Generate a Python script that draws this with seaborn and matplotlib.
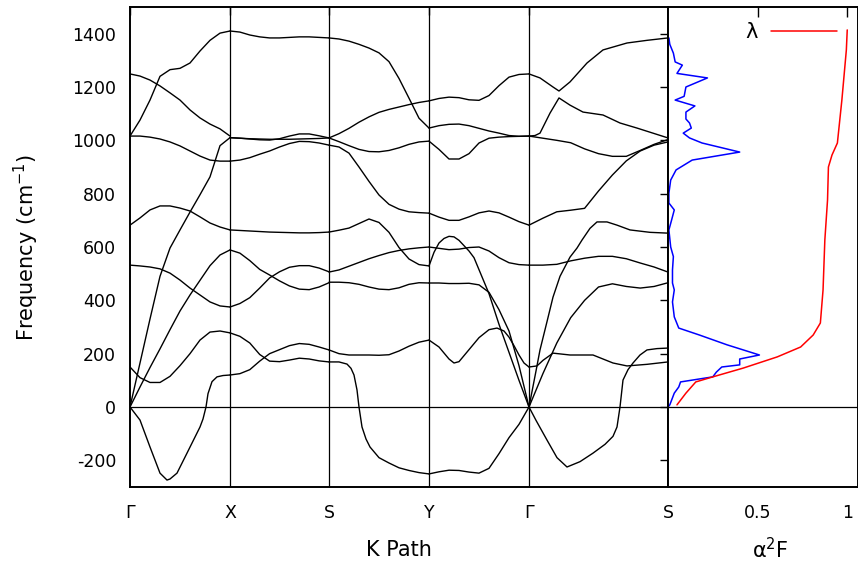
import matplotlib
matplotlib.use('Agg')
import matplotlib.pyplot as plt
import pandas as pd
import seaborn as sns

sns.set_theme(style='white')
plt.rcParams['font.family'] = ['DejaVu Sans']
plt.rcParams['mathtext.fontset'] = 'dejavusans'
plt.rcParams['axes.unicode_minus'] = False
for key in ('text.color', 'axes.labelcolor', 'xtick.color', 'ytick.color'):
    plt.rcParams[key] = 'black'

# ---------------- data ----------------
KNODES = [0.0, 1.0, 1.99, 2.99, 3.99, 5.38]
KLABELS = ['Γ', 'X', 'S', 'Y', 'Γ', 'S']
SEG_LEN = [1.0, 0.99, 1.0, 1.0, 1.39]
T11 = [i / 10 for i in range(11)]

# Γ-X
GX_A = [1016, 1076, 1151, 1240, 1265, 1270, 1290, 1335, 1375, 1402, 1410]
GX_B = [1249, 1241, 1226, 1204, 1178, 1151, 1114, 1084, 1061, 1043, 1016]
GX_C = [1016, 1016, 1012, 1005, 994, 979, 960, 941, 926, 922, 922]
GX_D = [0, 165, 330, 490, 596, 664, 731, 796, 863, 980, 1010]
GX_E = [682, 709, 739, 754, 754, 746, 735, 713, 690, 675, 664]
GX_F = [532, 529, 525, 518, 502, 476, 446, 420, 394, 379, 375]
GX_G = [0, 75, 148, 218, 290, 360, 420, 475, 530, 570, 589]
GX_H_D = [0, .07, .1, .2, .3, .4, .5, .6, .7, .8, .9, 1.0]
GX_H = [150, 122, 110, 92, 92, 115, 155, 200, 251, 281, 285, 278]
GX_I_D = [0, .1, .2, .3, .37, .4, .47, .57, .7, .73, .76, .78, .82, .87, .93, 1.0]
GX_I = [0, -49, -150, -248, -274, -270, -248, -173, -75, -45, 0, 50, 95, 113, 118, 120]

# X-S
XS_A = [1410, 1406, 1395, 1388, 1384, 1384, 1386, 1388, 1388, 1386, 1384]
XS_P1 = [1010, 1008, 1005, 1002, 1001, 1006, 1016, 1024, 1024, 1017, 1009]
XS_P2 = [1010, 1008, 1006, 1005, 1004, 1004, 1004, 1005, 1006, 1007, 1009]
XS_P3 = [922, 926, 935, 948, 960, 975, 988, 996, 995, 990, 982]
XS_E = [664, 662, 660, 658, 656, 655, 654, 653, 653, 654, 656]
XS_G = [589, 577, 549, 516, 495, 473, 454, 442, 440, 450, 466]
XS_F = [375, 388, 410, 446, 484, 507, 524, 530, 530, 521, 507]
XS_H = [278, 265, 240, 197, 172, 170, 176, 183, 180, 173, 169]
XS_I = [120, 125, 140, 172, 200, 215, 230, 238, 235, 225, 214]

# S-Y
SY_A = [1384, 1380, 1372, 1360, 1346, 1328, 1295, 1232, 1158, 1083, 1046]
SY_Q = [1009, 1025, 1045, 1068, 1088, 1105, 1116, 1125, 1134, 1142, 1148]
SY_R = [1009, 995, 980, 966, 958, 957, 962, 972, 985, 994, 997]
SY_P3 = [982, 975, 952, 900, 846, 795, 760, 742, 732, 729, 727]
SY_E = [656, 663, 671, 688, 705, 692, 655, 598, 555, 534, 529]
SY_F = [506, 514, 528, 542, 556, 568, 579, 587, 593, 597, 600]
SY_G = [468, 468, 466, 460, 450, 442, 440, 447, 460, 466, 465]
SY_I = [214, 200, 195, 195, 195, 194, 196, 210, 228, 243, 251]
SY_H_D = [0, .1, .18, .22, .25, .28, .30, .33, .37, .41, .5, .6, .7, .8, .9, 1.0]
SY_H = [169, 169, 161, 145, 120, 64, 0, -75, -120, -150, -190, -210, -228, -238, -246, -251]

# Y-Γ
YG_Q = [1148, 1157, 1162, 1160, 1152, 1150, 1168, 1205, 1237, 1247, 1249]
YG_A = [1046, 1055, 1060, 1061, 1055, 1045, 1035, 1027, 1018, 1015, 1016]
YG_R = [997, 966, 930, 930, 950, 990, 1008, 1012, 1014, 1015, 1016]
YG_P3 = [727, 712, 700, 700, 713, 728, 735, 728, 712, 695, 682]
YG_F = [600, 595, 590, 592, 598, 600, 585, 560, 541, 534, 532]
YG_G = [465, 465, 463, 463, 464, 458, 430, 365, 285, 155, 0]
YG_H = [-251, -243, -237, -238, -244, -248, -230, -175, -115, -65, 0]
YG_E_D = [0, .05, .1, .15, .2, .25, .3, .35, .4, .45, .5, .6, .7, .8, .9, 1.0]
YG_E = [529, 580, 615, 632, 640, 638, 625, 605, 585, 560, 515, 425, 310, 205, 100, 0]
YG_I_D = [0, .1, .2, .25, .3, .4, .5, .6, .68, .75, .8, .85, .9, .95, 1.0]
YG_I = [251, 225, 180, 165, 170, 215, 260, 290, 296, 285, 262, 230, 195, 165, 150]

# Γ-S
GS_R = [1016, 1008, 1000, 991, 968, 950, 940, 940, 962, 985, 1003]
GS_P3 = [682, 708, 732, 738, 745, 810, 870, 923, 960, 982, 994]
GS_F = [532, 532, 535, 548, 558, 565, 565, 556, 540, 525, 506]
GS_G = [0, 125, 240, 335, 400, 450, 462, 452, 446, 452, 466]
GS_B_D = [0, .11, .24, .30, .41, .58, .74, .98, 1.18, 1.39]
GS_B = [1249, 1234, 1200, 1185, 1219, 1290, 1339, 1365, 1375, 1384]
GS_A_D = [0, .06, .11, .21, .30, .41, .54, .74, .91, 1.08, 1.39]
GS_A = [1016, 1018, 1027, 1102, 1159, 1132, 1106, 1095, 1065, 1046, 1009]
GS_E_D = [0, .07, .11, .18, .24, .31, .41, .48, .53, .61, .68, .78, .88, 1.01, 1.21, 1.39]
GS_E = [0, 135, 214, 320, 412, 490, 562, 596, 626, 670, 694, 694, 682, 664, 655, 652]
GS_H_D = [0, .08, .14, .24, .41, .64, .84, .98, 1.18, 1.39]
GS_H = [150, 154, 175, 202, 195, 195, 165, 154, 160, 169]
GS_I_D = [0, .07, .18, .28, .38, .51, .64, .76, .84, .88, .91, .94, .99, 1.04, 1.11, 1.18, 1.28, 1.39]
GS_I = [0, -50, -124, -190, -225, -205, -173, -140, -110, -75, 0, 101, 140, 165, 195, 214, 219, 221]

# Eliashberg function and lambda
A2F_FREQ = [1384, 1360, 1327, 1294, 1282, 1251, 1234, 1200, 1165, 1151, 1129, 1106, 1080, 1065,
            1046, 1027, 1009, 990, 956, 926, 889, 851, 802, 765, 739, 701, 664, 600, 564, 514,
            465, 439, 394, 338, 296, 270, 233, 195, 180, 158, 150, 131, 113, 94, 75, 52, 8, 0]
A2F_VAL = [.005, .01, .03, .04, .08, .05, .22, .10, .09, .04, .15, .10, .10, .12, .13, .085, .12,
           .19, .40, .135, .045, .015, .005, .005, .035, .02, .005, .015, .03, .025, .025, .035,
           .025, .035, .06, .175, .33, .51, .40, .40, .30, .27, .25, .07, .06, .035, .01, 0]
LAM_FREQ = [8, 52, 94, 113, 146, 188, 225, 270, 315, 439, 626, 776, 900, 945, 990, 1151, 1226, 1339, 1414]
LAM_VAL = [.05, .10, .155, .25, .42, .61, .74, .81, .85, .865, .875, .89, .895, .915, .945, .97, .98, .995, 1.0]

CURVES = [
    (0, None, GX_A), (0, None, GX_B), (0, None, GX_C), (0, None, GX_D), (0, None, GX_E),
    (0, None, GX_F), (0, None, GX_G), (0, GX_H_D, GX_H), (0, GX_I_D, GX_I),
    (1, None, XS_A), (1, None, XS_P1), (1, None, XS_P2), (1, None, XS_P3), (1, None, XS_E),
    (1, None, XS_G), (1, None, XS_F), (1, None, XS_H), (1, None, XS_I),
    (2, None, SY_A), (2, None, SY_Q), (2, None, SY_R), (2, None, SY_P3), (2, None, SY_E),
    (2, None, SY_F), (2, None, SY_G), (2, None, SY_I), (2, SY_H_D, SY_H),
    (3, None, YG_Q), (3, None, YG_A), (3, None, YG_R), (3, None, YG_P3), (3, None, YG_F),
    (3, None, YG_G), (3, None, YG_H), (3, YG_E_D, YG_E), (3, YG_I_D, YG_I),
    (4, None, GS_R), (4, None, GS_P3), (4, None, GS_F), (4, None, GS_G), (4, GS_B_D, GS_B),
    (4, GS_A_D, GS_A), (4, GS_E_D, GS_E), (4, GS_H_D, GS_H), (4, GS_I_D, GS_I),
]

rows = []
for cid, (seg, d, f) in enumerate(CURVES):
    if d is None:
        d = [t * SEG_LEN[seg] for t in T11]
    for di, fi in zip(d, f):
        rows.append((KNODES[seg] + di, fi, cid))
bands = pd.DataFrame(rows, columns=['k', 'freq', 'curve'])

# ---------------- figure ----------------
W, H = 858, 564
fig = plt.figure(figsize=(W / 100, H / 100), dpi=100)
ax1 = fig.add_axes([130 / W, 77 / H, 538 / W, 480 / H])
ax2 = fig.add_axes([668 / W, 77 / H, 190 / W, 480 / H])

FS = 12.5
LFS = 15
for ax in (ax1, ax2):
    ax.set_facecolor('white')
    for s in ax.spines.values():
        s.set_color('black')
        s.set_linewidth(1.4)
    ax.set_ylim(-300, 1500)

sns.lineplot(data=bands, x='k', y='freq', units='curve', estimator=None, sort=False,
             color='black', linewidth=1.0, ax=ax1, legend=False)
for kx in KNODES[1:-1]:
    ax1.axvline(kx, color='black', lw=0.9)
ax1.axhline(0, color='black', lw=0.9)
ax1.set_xlim(KNODES[0], KNODES[-1])
ax1.set_xticks(KNODES)
ax1.set_xticklabels(KLABELS)
ax1.set_yticks(list(range(-200, 1401, 200)))
ax1.tick_params(axis='y', direction='in', labelsize=FS, length=6, width=1,
                right=True, pad=10, colors='black')
ax1.tick_params(axis='x', direction='in', labelsize=FS, length=6, width=1,
                top=True, pad=12, colors='black')
ax1.set_xlabel('K Path', fontsize=LFS, color='black')
ax1.set_ylabel('Frequency (cm$^{-1}$)', fontsize=LFS, color='black')
ax1.xaxis.set_label_coords(0.5, -0.11)
ax1.yaxis.set_label_coords(-0.165, 0.5)

sns.lineplot(x=A2F_VAL, y=A2F_FREQ, sort=False, estimator=None, color='#0000ff',
             linewidth=1.1, ax=ax2)
sns.lineplot(x=LAM_VAL, y=LAM_FREQ, sort=False, estimator=None, color='#ff0000',
             linewidth=1.1, ax=ax2, label='λ')
ax2.axhline(0, color='black', lw=0.9)
ax2.set_xlim(0, 1.06)
ax2.set_xticks([0.5, 1.0])
ax2.set_xticklabels(['0.5', '1'])
ax2.set_yticks([])
ax2.set_ylabel('')
ax2.tick_params(axis='x', direction='in', labelsize=FS, length=7, width=1,
                top=True, pad=12, colors='black')
ax2.set_xlabel('α$^2$F', fontsize=LFS, color='black')
ax2.xaxis.set_label_coords(0.537, -0.105)
leg = ax2.legend(loc='upper right', bbox_to_anchor=(0.89, 0.968), frameon=False,
                 markerfirst=False, handlelength=3.15, handletextpad=0.65, borderpad=0,
                 borderaxespad=0, fontsize=LFS)
for t in leg.get_texts():
    t.set_color('black')

fig.savefig('out.png', dpi=100, facecolor='white')
